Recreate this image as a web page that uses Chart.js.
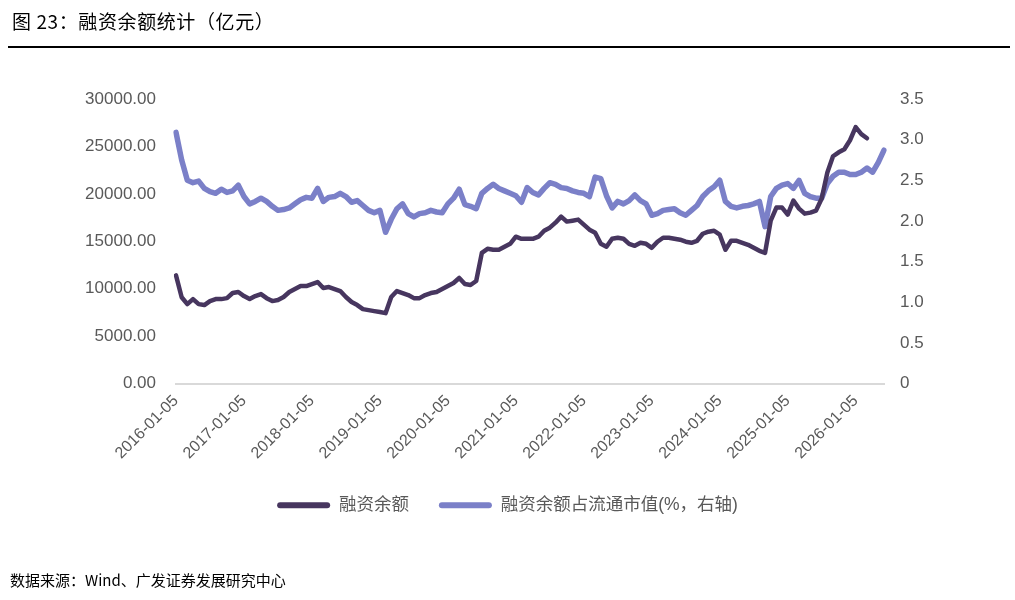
<!DOCTYPE html>
<html>
<head>
<meta charset="utf-8">
<script src="https://cdn.jsdelivr.net/npm/chart.js@4.4.1/dist/chart.umd.min.js"></script>
<style>
html,body{margin:0;padding:0;background:#fff;width:1015px;height:600px;overflow:hidden;}
#title{position:absolute;left:12px;top:7px;font-size:19px;line-height:28px;letter-spacing:0.6px;font-family:"Noto Sans CJK SC",sans-serif;color:#000;white-space:nowrap;z-index:2;}
#rule{position:absolute;left:8px;top:46px;width:1002px;height:2px;background:#000;z-index:2;}
#src{position:absolute;left:10px;top:569px;font-size:15px;line-height:22px;font-family:"Noto Sans CJK SC",sans-serif;color:#000;white-space:nowrap;z-index:2;}
#wrap{position:absolute;left:0;top:0;width:1015px;height:600px;z-index:1;}
</style>
</head>
<body>
<div id="title">图&nbsp;23：融资余额统计（亿元）</div>
<div id="rule"></div>
<div id="wrap"><canvas id="c" width="1015" height="600"></canvas></div>
<div id="src">数据来源：Wind、广发证券发展研究中心</div>
<script>
// ---- data (monthly samples) ----
const startYear = 2016;
const monthCount = 126; // 2016-01 .. 2026-06
const labels = [];
for (let k = 0; k < monthCount; k++) {
  const y = startYear + Math.floor(k / 12);
  const m = (k % 12) + 1;
  labels.push(y + '-' + String(m).padStart(2, '0') + '-05');
}

// 融资余额 (亿元)
const marginBalance = [
  11400, 9100, 8370, 8900, 8370, 8270, 8690, 8900, 8900, 9000, 9540, 9650,
  9220, 8900, 9220, 9430, 9000, 8690, 8800, 9120, 9650, 9960, 10280, 10280,
  10490, 10700, 10070, 10170, 9960, 9750, 9120, 8590, 8270, 7840, 7740, 7630,
  7530, 7420, 9120, 9750, 9540, 9330, 9000, 9000, 9330, 9540, 9650, 9960,
  10280, 10600, 11130, 10490, 10390, 10810, 13780, 14200, 14100, 14100, 14420, 14730,
  15480, 15260, 15260, 15260, 15480, 16110, 16430, 16960, 17600, 17070, 17170, 17280,
  16750, 16220, 15900, 14730, 14420, 15260, 15370, 15260, 14730, 14520, 14840, 14730,
  14310, 14950, 15370, 15370, 15260, 15160, 14950, 14840, 15050, 15790, 16010, 16110,
  15690, 14100, 15050, 15050, 14840, 14630, 14310, 13990, 13780, 17170, 18550, 18550,
  17810, 19290, 18440, 17910, 18020, 18230, 19500, 22260, 23960, 24380, 24700, 25650,
  27030, 26290, 25860, null, null, null
];

// 融资余额占流通市值 (%)
const marginRatio = [
  3.09, 2.75, 2.50, 2.47, 2.49, 2.40, 2.36, 2.34, 2.39, 2.35, 2.37, 2.44,
  2.30, 2.21, 2.24, 2.28, 2.24, 2.18, 2.13, 2.14, 2.16, 2.21, 2.26, 2.29,
  2.28, 2.40, 2.24, 2.29, 2.30, 2.34, 2.30, 2.23, 2.25, 2.19, 2.13, 2.10,
  2.13, 1.86, 2.02, 2.15, 2.21, 2.09, 2.05, 2.09, 2.10, 2.13, 2.11, 2.10,
  2.21, 2.28, 2.39, 2.20, 2.18, 2.15, 2.34, 2.40, 2.45, 2.40, 2.37, 2.34,
  2.31, 2.23, 2.41, 2.35, 2.32, 2.40, 2.47, 2.45, 2.41, 2.40, 2.37, 2.35,
  2.34, 2.30, 2.54, 2.52, 2.31, 2.16, 2.24, 2.21, 2.25, 2.32, 2.25, 2.21,
  2.07, 2.09, 2.13, 2.14, 2.15, 2.10, 2.07, 2.13, 2.19, 2.30, 2.37, 2.42,
  2.50, 2.24, 2.18, 2.16, 2.18, 2.19, 2.21, 2.24, 1.93, 2.30, 2.40, 2.44,
  2.46, 2.40, 2.50, 2.34, 2.30, 2.28, 2.28, 2.46, 2.55, 2.60, 2.60, 2.57,
  2.57, 2.60, 2.65, 2.60, 2.72, 2.87
];

const seriesNames = ['融资余额', '融资余额占流通市值(%，右轴)'];
const leftTicks = { min: 0, max: 30000, step: 5000 };
const rightTicks = { min: 0, max: 3.5, step: 0.5 };

const DARK = '#47365f';
const BLUE = '#7b80c8';
const TXT = '#595959';
const FONT = '"Liberation Sans", "Noto Sans CJK SC", Arial, sans-serif';

new Chart(document.getElementById('c'), {
  type: 'line',
  data: {
    labels: labels,
    datasets: [
      { label: seriesNames[0], data: marginBalance, yAxisID: 'y', borderColor: DARK, backgroundColor: DARK,
        borderWidth: 4.5, pointRadius: 0, tension: 0, borderJoinStyle: 'round', borderCapStyle: 'round', spanGaps: false },
      { label: seriesNames[1], data: marginRatio, yAxisID: 'y1', borderColor: BLUE, backgroundColor: BLUE,
        borderWidth: 5.5, pointRadius: 0, tension: 0, borderJoinStyle: 'round', borderCapStyle: 'round' }
    ]
  },
  options: {
    responsive: false,
    animation: false,
    events: [],
    layout: { padding: { top: 99, left: 0, right: 0, bottom: 76 } },
    plugins: {
      tooltip: { enabled: false },
      legend: {
        position: 'bottom',
        labels: {
          boxWidth: 53, boxHeight: 6, padding: 30, color: TXT, useBorderRadius: true, borderRadius: 3,
          font: { size: 17.5, family: FONT },
          generateLabels: function (chart) {
            return chart.data.datasets.map(function (d, i) {
              return { text: d.label, fillStyle: d.borderColor, strokeStyle: d.borderColor, lineWidth: 0,
                       fontColor: TXT, borderRadius: 3, datasetIndex: i, hidden: false };
            });
          }
        }
      }
    },
    scales: {
      x: {
        grid: { display: false, drawTicks: false },
        border: { display: true, color: '#d9d9d9', width: 2 },
        ticks: {
          autoSkip: false, maxRotation: 45, minRotation: 45, padding: 8, color: TXT,
          font: { size: 16, family: FONT },
          callback: function (v, i) { const l = labels[i]; return l.slice(5, 7) === '01' ? l : null; }
        },
        afterFit: function (s) { s.height = 83; }
      },
      y: {
        position: 'left', min: leftTicks.min, max: leftTicks.max,
        grid: { display: false, drawTicks: false },
        border: { display: false },
        ticks: { stepSize: leftTicks.step, padding: 20, color: TXT, font: { size: 17, family: FONT },
                 callback: function (v) { return Number(v).toFixed(2); } },
        afterFit: function (s) { s.width = 176; }
      },
      y1: {
        position: 'right', min: rightTicks.min, max: rightTicks.max,
        grid: { display: false, drawTicks: false },
        border: { display: false },
        ticks: { stepSize: rightTicks.step, padding: 16, color: TXT, font: { size: 17, family: FONT } },
        afterFit: function (s) { s.width = 131; }
      }
    }
  }
});
</script>
</body>
</html>
